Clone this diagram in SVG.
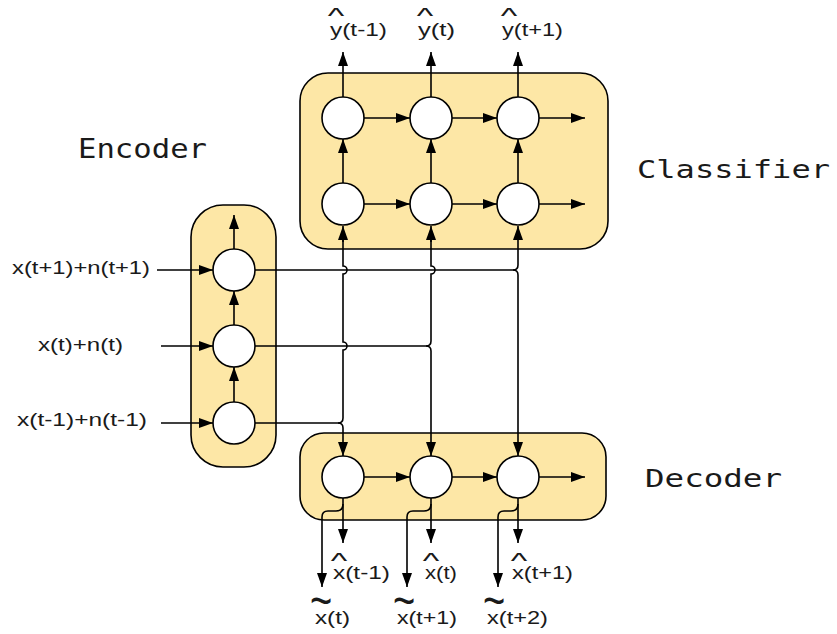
<svg xmlns="http://www.w3.org/2000/svg" width="837" height="634" viewBox="0 0 837 634">
  <defs>
    <marker id="arrow" markerUnits="userSpaceOnUse" markerWidth="14" markerHeight="10" refX="14" refY="5" orient="auto">
      <path d="M0,0 L14,5 L0,10 z" fill="#000"/>
    </marker>
    <style>
      .box { fill: #fde7a6; stroke: #000; stroke-width: 1.6; }
      .cell { fill: #fff; stroke: #000; stroke-width: 1.6; }
      .edge { fill: none; stroke: #000; stroke-width: 1.6; }
      .arr { marker-end: url(#arrow); }
      .lbl { font-family: "Liberation Sans", Arial, sans-serif; font-size: 19px; fill: #1a1a1a; }
      .hat { font-family: "Liberation Sans", Arial, sans-serif; font-size: 22px; fill: #1a1a1a; text-anchor: middle; }
      .tilde { font-family: "Liberation Sans", Arial, sans-serif; font-size: 38px; fill: #1a1a1a; text-anchor: middle; }
      .title { font-family: "DejaVu Sans Mono", "Liberation Mono", monospace; fill: #1a1a1a; }
    </style>
  </defs>

  <rect width="837" height="634" fill="#fff"/>

  <!-- Encoder block -->
  <g id="encoder">
    <rect class="box" x="191" y="205" width="85" height="262" rx="32"/>
    <circle class="cell" cx="234" cy="270" r="21"/>
    <circle class="cell" cx="234" cy="346" r="21"/>
    <circle class="cell" cx="234" cy="423" r="21"/>
    <text class="title" x="78" y="158" font-size="27" textLength="129" lengthAdjust="spacingAndGlyphs">Encoder</text>
  </g>

  <!-- Classifier block -->
  <g id="classifier">
    <rect class="box" x="300" y="73" width="308" height="176" rx="28"/>
    <circle class="cell" cx="343" cy="118" r="21"/>
    <circle class="cell" cx="431" cy="118" r="21"/>
    <circle class="cell" cx="518" cy="118" r="21"/>
    <circle class="cell" cx="343" cy="204" r="21"/>
    <circle class="cell" cx="431" cy="204" r="21"/>
    <circle class="cell" cx="518" cy="204" r="21"/>
    <text class="title" x="637" y="178" font-size="25" textLength="193" lengthAdjust="spacingAndGlyphs">Classifier</text>
  </g>

  <!-- Decoder block -->
  <g id="decoder">
    <rect class="box" x="300" y="433" width="306" height="87" rx="24"/>
    <circle class="cell" cx="343" cy="477" r="21"/>
    <circle class="cell" cx="431" cy="477" r="21"/>
    <circle class="cell" cx="518" cy="477" r="21"/>
    <text class="title" x="645" y="487" font-size="25" textLength="137" lengthAdjust="spacingAndGlyphs">Decoder</text>
  </g>

  <!-- Connectors -->
  <g id="connectors">
    <!-- encoder inputs -->
    <path class="edge arr" d="M157,270 H213"/>
    <path class="edge arr" d="M161,346 H213"/>
    <path class="edge arr" d="M161,423 H213"/>
    <!-- encoder recurrence (upwards) -->
    <path class="edge arr" d="M234,402 V367"/>
    <path class="edge arr" d="M234,325 V291"/>
    <path class="edge arr" d="M234,249 V215"/>

    <!-- classifier recurrences -->
    <path class="edge arr" d="M364,118 H410"/>
    <path class="edge arr" d="M452,118 H497"/>
    <path class="edge arr" d="M539,118 H585"/>
    <path class="edge arr" d="M364,204 H410"/>
    <path class="edge arr" d="M452,204 H497"/>
    <path class="edge arr" d="M539,204 H585"/>
    <path class="edge arr" d="M343,183 V139"/>
    <path class="edge arr" d="M431,183 V139"/>
    <path class="edge arr" d="M518,183 V139"/>
    <path class="edge arr" d="M343,97 V52"/>
    <path class="edge arr" d="M431,97 V52"/>
    <path class="edge arr" d="M518,97 V52"/>

    <!-- decoder recurrence -->
    <path class="edge arr" d="M364,477 H410"/>
    <path class="edge arr" d="M452,477 H497"/>
    <path class="edge arr" d="M539,477 H585"/>

    <!-- encoder states fanned out to classifier and decoder (vertical runs hop over crossings) -->
    <path class="edge" d="M255,423 H338 Q343,423 343,418 V350 A4,4 0 0 0 343,342 V274 A4,4 0 0 0 343,266 V240"/>
    <path class="edge arr" d="M343,242 V226"/>
    <path class="edge arr" d="M338,423 Q343,423 343,428 V456"/>

    <path class="edge" d="M255,346 H426 Q431,346 431,341 V274 A4,4 0 0 0 431,266 V240"/>
    <path class="edge arr" d="M431,242 V226"/>
    <path class="edge arr" d="M426,346 Q431,346 431,351 V456"/>

    <path class="edge arr" d="M255,270 H513 Q518,270 518,265 V226"/>
    <path class="edge arr" d="M513,270 Q518,270 518,275 V456"/>

    <!-- decoder outputs -->
    <path class="edge arr" d="M343,498 V543"/>
    <path class="edge arr" d="M343,504 Q343,511 336,511 H328 Q322,511 322,517 V587"/>
    <path class="edge arr" d="M431,498 V543"/>
    <path class="edge arr" d="M431,504 Q431,511 424,511 H413 Q407,511 407,517 V587"/>
    <path class="edge arr" d="M518,498 V543"/>
    <path class="edge arr" d="M518,504 Q518,511 511,511 H504 Q498,511 498,517 V587"/>
  </g>

  <!-- input labels -->
  <g id="inputs">
    <text class="lbl" x="12" y="274" textLength="138" lengthAdjust="spacingAndGlyphs">x(t+1)+n(t+1)</text>
    <text class="lbl" x="38" y="351" textLength="85" lengthAdjust="spacingAndGlyphs">x(t)+n(t)</text>
    <text class="lbl" x="17" y="426" textLength="130" lengthAdjust="spacingAndGlyphs">x(t-1)+n(t-1)</text>
  </g>

  <!-- classifier outputs: y-hat -->
  <g id="predictions">
    <text class="lbl" x="330" y="36" textLength="57" lengthAdjust="spacingAndGlyphs">y(t-1)</text>
    <text class="hat" transform="translate(336,23) scale(1.6,1)">^</text>
    <text class="lbl" x="418" y="36" textLength="37" lengthAdjust="spacingAndGlyphs">y(t)</text>
    <text class="hat" transform="translate(425,23) scale(1.6,1)">^</text>
    <text class="lbl" x="502" y="36" textLength="61" lengthAdjust="spacingAndGlyphs">y(t+1)</text>
    <text class="hat" transform="translate(509,23) scale(1.6,1)">^</text>
  </g>

  <!-- decoder outputs: x-hat and x-tilde -->
  <g id="reconstructions">
    <text class="lbl" x="333" y="579" textLength="57" lengthAdjust="spacingAndGlyphs">x(t-1)</text>
    <text class="hat" transform="translate(339,568) scale(1.6,1)">^</text>
    <text class="lbl" x="425" y="579" textLength="32" lengthAdjust="spacingAndGlyphs">x(t)</text>
    <text class="hat" transform="translate(431,568) scale(1.6,1)">^</text>
    <text class="lbl" x="512" y="579" textLength="61" lengthAdjust="spacingAndGlyphs">x(t+1)</text>
    <text class="hat" transform="translate(519,568) scale(1.6,1)">^</text>

    <text class="lbl" x="315" y="624" textLength="35" lengthAdjust="spacingAndGlyphs">x(t)</text>
    <text class="tilde" transform="translate(321,618) scale(1,1.3)">~</text>
    <text class="lbl" x="397" y="624" textLength="60" lengthAdjust="spacingAndGlyphs">x(t+1)</text>
    <text class="tilde" transform="translate(404,618) scale(1,1.3)">~</text>
    <text class="lbl" x="487" y="624" textLength="61" lengthAdjust="spacingAndGlyphs">x(t+2)</text>
    <text class="tilde" transform="translate(494,618) scale(1,1.3)">~</text>
  </g>
</svg>
